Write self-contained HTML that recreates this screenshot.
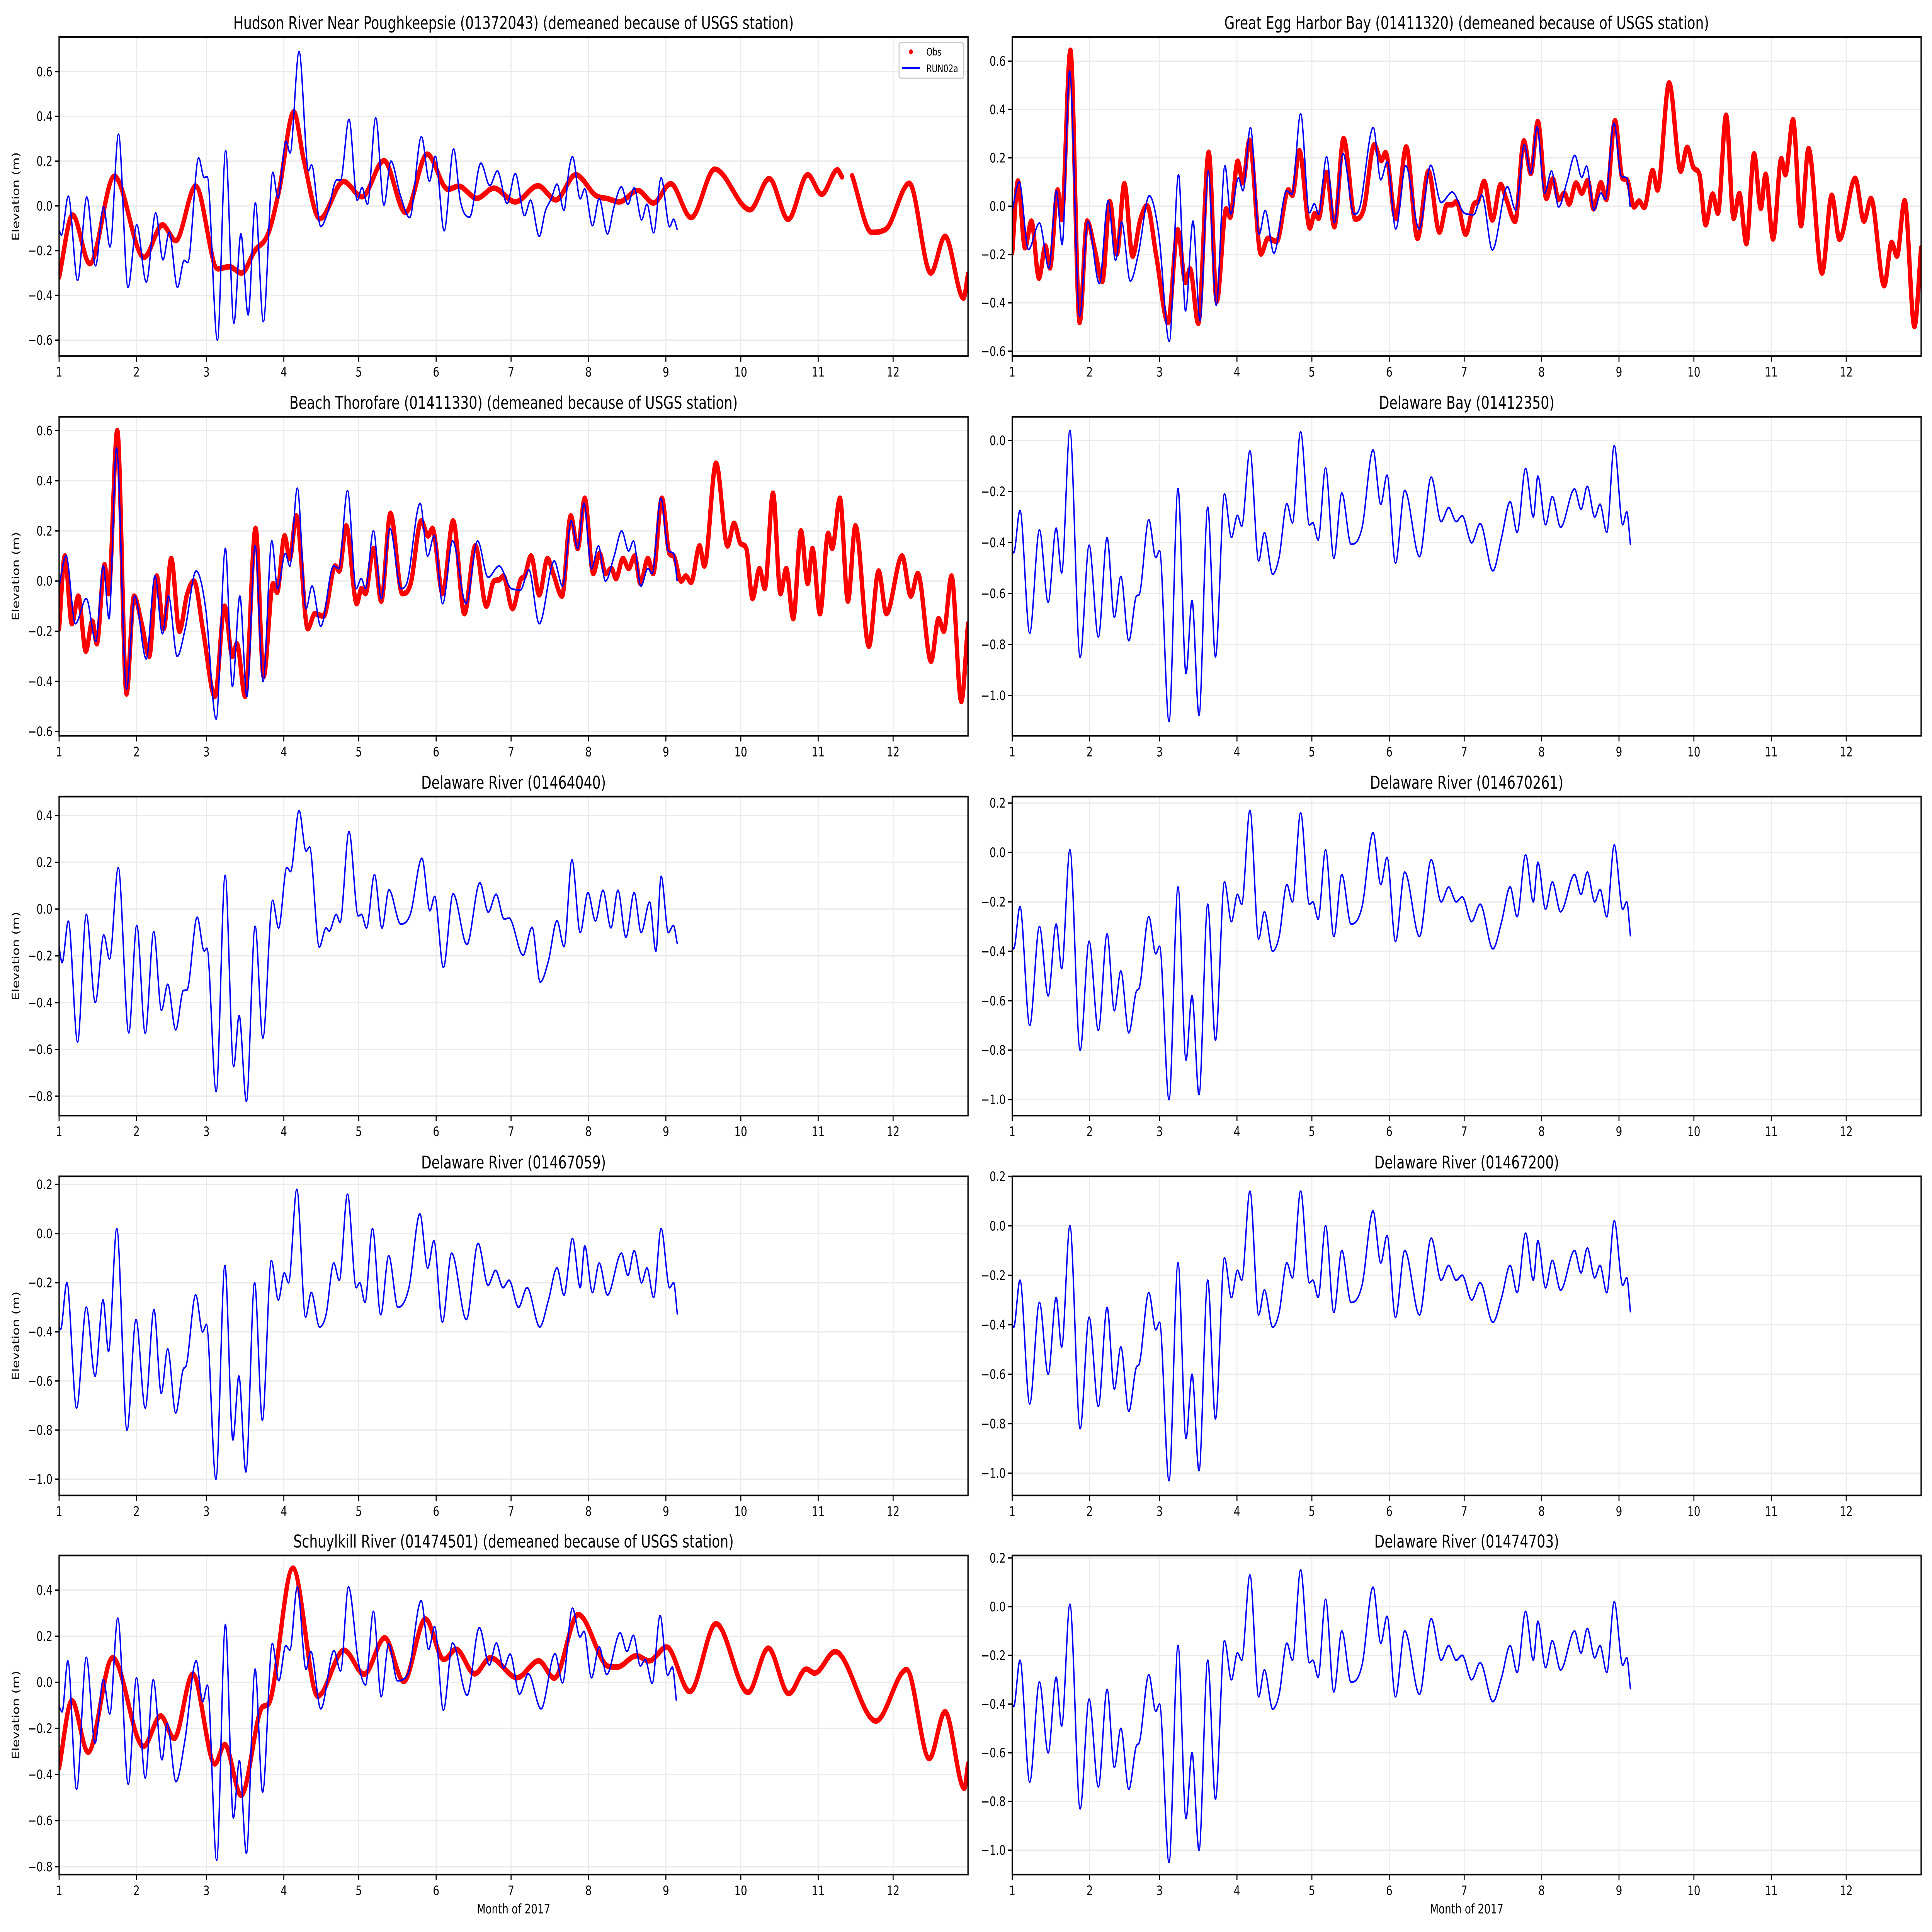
<!DOCTYPE html>
<html>
<head>
<meta charset="utf-8">
<title>Elevation comparison 2017</title>
<style>
  html,body{margin:0;padding:0;background:#fff;overflow:hidden;width:100%;height:100%;}
  svg{display:block;width:100vw;height:100vh;}
  text{font-family:"DejaVu Sans","Liberation Sans",sans-serif;fill:#000;}
</style>
</head>
<body>
<svg id="fig" viewBox="0 0 7650 5850" preserveAspectRatio="none"></svg>
<script>
// ---------- data (day of year since Jan 1, elevation in m) ----------
const monthTicks = [0,31,59,90,120,151,181,212,243,273,304,334];
const monthLabels = ["1","2","3","4","5","6","7","8","9","10","11","12"];

// Panel 1: Hudson River Near Poughkeepsie
const r1d=[0,5.4,12.3,22.1,34,41.4,46.7,54.7,63.5,68.2,73.1,78.3,83.8,88.1,94,97.9,104.4,113.9,121.3,130.1,138.7,147.4,155.7,160,167.3,174.1,182.7,191.8,198.9,206.9,215,219.8,224.3,231.8,238,244.9,253.1,262.6,276.7,284.4,292,299.8,305.4,311.7,313.5,315.5,317.6,325.4,331.1,340.5,349.1,354.8,362.2,364];
const r1v=[-0.319,-0.041,-0.258,0.132,-0.23,-0.085,-0.155,0.088,-0.281,-0.272,-0.3,-0.202,-0.122,0.069,0.42,0.209,-0.057,0.109,0.041,0.202,-0.029,0.231,0.074,0.088,0.034,0.079,0.018,0.09,0.027,0.139,0.046,0.032,0.018,0.069,0.013,0.099,-0.052,0.164,-0.017,0.122,-0.06,0.139,0.052,0.161,0.13,null,0.135,-0.118,-0.104,0.101,-0.3,-0.136,-0.412,-0.305];
const b1d=[0,0.9,3.7,7.4,11.1,14.6,17.8,20.4,23.8,27.6,31.1,34.9,38.7,41.6,44.1,47.4,50.1,51.5,55.9,58.1,59.3,63.4,66.7,70,72.8,75.7,78.6,81.8,85.6,87.6,90.9,92.5,96.1,99.9,101.1,104.8,107.5,111.2,112.7,116.1,119.4,121.3,123.5,126.8,130.1,132.9,136.6,140.4,145.1,148.3,150.7,154.2,158,160.7,164.4,168.9,172.5,175.5,179.4,182.7,186.4,188.8,192.3,194.7,197.1,199.4,202.2,204.2,205.6,208.7,210.5,213.6,216.3,219.6,222.2,225.2,227.8,230.3,233.3,235.4,238.1,241.1,244.5,246.1,247.6];
const b1v=[-0.108,-0.13,0.043,-0.333,0.039,-0.267,-0.006,-0.183,0.32,-0.364,-0.085,-0.34,-0.032,-0.241,-0.118,-0.364,-0.244,-0.253,0.214,0.127,0.13,-0.6,0.247,-0.524,-0.125,-0.487,0.013,-0.517,0.15,0.036,0.289,0.237,0.689,0.158,0.183,-0.092,-0.031,0.116,0.116,0.387,0.025,0.082,0.008,0.393,0.004,0.2,0.05,-0.052,0.309,0.111,0.221,-0.111,0.254,0.022,-0.05,0.191,0.091,0.156,0.011,0.144,-0.043,0.025,-0.136,-0.024,0.032,0.097,-0.02,0.163,0.22,0.032,0.076,-0.088,0.032,-0.125,-0.006,0.085,0.007,0.08,-0.062,0.007,-0.12,0.125,-0.093,-0.06,-0.108];

// Panel 2: Great Egg Harbor Bay
const r2d=[0,2.3,5.1,7.7,10.7,13.3,15.1,18.2,19.8,23.3,27,30,33.1,36.1,39.1,41.9,44.9,48.2,51.2,54,57.7,62.4,66.3,69.4,71.2,74.5,78.7,81.9,85.7,87.3,90.3,92.4,95,99.6,102.4,105.9,110.6,112.2,115,119.2,121.1,122.7,125.9,129,132.7,137.4,140.8,145,147.8,149.5,153.6,157.8,162.3,166.7,171.1,174.1,176.2,177.9,181.6,185.1,186.2,189,192.3,195.6,197.9,201.4,204.9,207.7,210.5,213.9,216.5,218.8,221.2,223,225.8,228.1,230.5,232.8,235.8,237.9,241.4,244.4,246.1,249.1,251,253.1,256.5,258.4,263.1,267.7,270.3,272.9,275.2,277.7,280.5,282.6,285.9,288.9,291.2,294,297.1,299.8,301.7,304.7,308,309.6,312.7,315.9,318.9,324.3,328.2,331.3,337.6,341.1,343.9,349.2,352.2,354.3,357.4,361.3,364];
const r2v=[-0.194,0.104,-0.172,-0.062,-0.298,-0.165,-0.255,0.067,-0.055,0.645,-0.481,-0.062,-0.181,-0.311,0.019,-0.198,0.093,-0.207,-0.059,0.002,-0.207,-0.481,-0.098,-0.316,-0.259,-0.485,0.223,-0.394,-0.011,-0.046,0.186,0.097,0.273,-0.198,-0.133,-0.146,0.067,0.045,0.23,-0.09,-0.031,-0.05,0.139,-0.085,0.28,-0.053,-0.011,0.254,0.189,0.222,-0.05,0.245,-0.133,0.145,-0.107,0.006,0.006,0.019,-0.116,0.012,0.015,0.102,-0.057,0.09,0.028,-0.063,0.27,0.135,0.35,0.032,0.113,0.028,0.054,0.009,0.096,0.054,0.106,-0.011,0.097,0.028,0.354,0.115,0.11,-0.003,0.021,-0.005,0.148,0.067,0.51,0.145,0.243,0.158,0.132,-0.077,0.05,-0.029,0.376,-0.05,0.052,-0.155,0.217,-0.009,0.132,-0.136,0.197,0.13,0.358,-0.081,0.238,-0.277,0.045,-0.137,0.115,-0.062,0.032,-0.329,-0.15,-0.207,0.023,-0.498,-0.172];
const b2d=[0,2.8,6.5,10.9,14.7,17.7,20,23,27,30.3,34.9,38.4,41.4,43.8,47.3,50.5,54.9,58.7,62.9,66.6,69.4,72.4,75.2,78.5,81.7,85.2,87.5,90.6,92.4,95.4,98.9,101.3,104.8,109.9,112,115.5,119,121,122.7,125.9,129,132.5,136.9,139.2,144.6,147.6,150.2,153.6,157.6,163,167.6,171.8,176.2,181.1,184.8,188.1,192.3,198.3,201.6,205.1,207.7,210.2,213.2,216,218.8,222.3,225.3,228.1,230,233,235.8,237.5,241,244,246.1,247.5];
const b2v=[-0.02,0.1,-0.179,-0.07,-0.255,0.063,-0.159,0.558,-0.455,-0.063,-0.32,0.022,-0.224,-0.066,-0.31,-0.198,0.043,-0.116,-0.559,0.13,-0.433,-0.062,-0.472,0.145,-0.41,0.167,-0.033,0.117,0.064,0.325,-0.116,-0.018,-0.194,0.063,0.05,0.382,-0.027,0.01,-0.033,0.204,-0.068,0.217,-0.033,-0.005,0.325,0.109,0.184,-0.094,0.167,-0.094,0.169,0.015,0.058,-0.029,-0.035,0.045,-0.181,0.08,-0.016,0.254,0.135,0.328,0.054,0.145,-0.003,0.106,0.21,0.119,0.165,-0.016,0.054,0.028,0.343,0.123,0.117,-0.003];

// Panel 3: Beach Thorofare
const r3d=[0,2.3,5.1,7.7,10.7,13.3,15.1,18.2,19.8,23.3,27,30,33.1,36.1,39.1,41.9,44.9,48.2,51.2,54,57.7,62.4,66.3,69.4,71.2,74.5,78.7,81.9,85.7,87.3,90.3,92.4,95,99.6,102.4,105.9,110.6,112.2,115,119.2,121.1,122.7,125.9,129,132.7,137.4,140.8,145,147.8,149.5,153.6,157.8,162.3,166.7,171.1,174.1,176.2,177.9,181.6,185.1,186.2,189,192.3,195.6,197.9,201.4,204.9,207.7,210.5,213.9,216.5,218.8,221.2,223,225.8,228.1,230.5,232.8,235.8,237.9,241.4,244.4,246.1,249.1,251,253.1,256.5,258.4,263.1,267.7,270.3,272.9,275.2,277.7,280.5,282.6,285.9,288.9,291.2,294,297.1,299.8,301.7,304.7,308,309.6,312.7,315.9,318.9,324.3,328.2,331.3,337.6,341.1,343.9,349.2,352.2,354.3,357.4,361.3,364];
const r3v=[-0.19,0.1,-0.17,-0.06,-0.28,-0.16,-0.25,0.065,-0.05,0.6,-0.45,-0.06,-0.17,-0.3,0.02,-0.19,0.09,-0.2,-0.055,0.0,-0.2,-0.46,-0.1,-0.3,-0.25,-0.46,0.21,-0.38,-0.01,-0.045,0.18,0.09,0.26,-0.19,-0.13,-0.14,0.06,0.04,0.22,-0.09,-0.03,-0.05,0.13,-0.08,0.27,-0.05,-0.01,0.24,0.18,0.21,-0.05,0.24,-0.13,0.14,-0.1,0.0,0.005,0.02,-0.11,0.01,0.015,0.1,-0.055,0.09,0.03,-0.06,0.26,0.13,0.33,0.03,0.11,0.03,0.05,0.01,0.09,0.05,0.1,-0.01,0.09,0.03,0.33,0.11,0.1,0.0,0.02,-0.005,0.14,0.06,0.47,0.14,0.23,0.15,0.13,-0.07,0.05,-0.03,0.35,-0.05,0.05,-0.15,0.2,-0.01,0.13,-0.13,0.19,0.13,0.33,-0.08,0.22,-0.26,0.04,-0.13,0.1,-0.06,0.03,-0.32,-0.15,-0.2,0.02,-0.48,-0.17];
const b3d=[0,2.8,6.5,10.9,14.7,17.7,20,23,27,30.3,34.9,38.4,41.4,43.8,47.3,50.5,54.9,58.7,62.9,66.6,69.4,72.4,75.2,78.5,81.7,85.2,87.5,90.6,92.4,95.4,98.9,101.3,104.8,109.9,112,115.5,119,121,122.7,125.9,129,132.5,136.9,139.2,144.6,147.6,150.2,153.6,157.6,163,167.6,171.8,176.2,181.1,184.8,188.1,192.3,198.3,201.6,205.1,207.7,210.2,213.2,216,218.8,222.3,225.3,228.1,230,233,235.8,237.5,241,244,246.1,247.5];
const b3v=[-0.02,0.1,-0.17,-0.07,-0.24,0.06,-0.15,0.53,-0.43,-0.06,-0.31,0.02,-0.21,-0.06,-0.3,-0.19,0.04,-0.11,-0.55,0.13,-0.42,-0.06,-0.46,0.14,-0.4,0.16,-0.03,0.11,0.06,0.37,-0.11,-0.02,-0.18,0.06,0.05,0.36,-0.03,0.01,-0.03,0.2,-0.07,0.21,-0.03,-0.01,0.31,0.1,0.18,-0.09,0.16,-0.09,0.16,0.015,0.06,-0.03,-0.035,0.045,-0.17,0.08,-0.02,0.24,0.13,0.31,0.05,0.14,0.0,0.1,0.2,0.12,0.16,-0.02,0.05,0.03,0.33,0.12,0.11,0.0];

// Panel 4: Delaware Bay
const b4d=[0,0.6,3.1,7,10.9,14.4,17.6,19.8,23.1,27.2,30.8,34.5,38,40.9,43.5,46.7,49.8,50.8,54.7,57.5,59,62.8,66.4,69.6,72,74.8,78.3,81.4,85,87.8,90.2,91.9,95.2,98.7,101,104.3,106.9,110,112.2,115.5,119,120.4,122.5,125.5,128.8,132,135.7,140.1,144.5,147.6,150.1,153.5,157.2,163.1,167.8,171.8,174.8,177.8,180.2,184,187.4,192.5,196,199.4,202.2,205.6,208.7,210.5,213.6,216.3,219.6,225.2,227.8,230.3,233.3,235.4,238.1,241.1,244.5,246.1,247.6];
const b4v=[-0.433,-0.44,-0.274,-0.755,-0.351,-0.634,-0.344,-0.519,0.039,-0.85,-0.411,-0.77,-0.381,-0.693,-0.533,-0.785,-0.609,-0.605,-0.311,-0.459,-0.432,-1.101,-0.188,-0.914,-0.627,-1.077,-0.262,-0.848,-0.21,-0.38,-0.294,-0.336,-0.041,-0.472,-0.362,-0.524,-0.457,-0.248,-0.323,0.034,-0.331,-0.323,-0.39,-0.108,-0.461,-0.206,-0.407,-0.342,-0.037,-0.25,-0.136,-0.48,-0.196,-0.455,-0.144,-0.318,-0.263,-0.318,-0.295,-0.401,-0.326,-0.511,-0.38,-0.24,-0.36,-0.11,-0.3,-0.14,-0.33,-0.22,-0.34,-0.19,-0.27,-0.18,-0.3,-0.25,-0.36,-0.02,-0.33,-0.28,-0.41];

// Panel 5: Delaware River (01464040)
const b5d=[0,1.2,3.7,7.4,10.9,14.5,17.9,20.2,23.7,27.9,31.1,34.5,37.9,41,43.5,46.7,49.8,51.2,55.3,58.1,59.2,62.9,66.5,69.9,72.1,75,78.5,81.6,85.5,87.9,91.2,92.7,96.1,98.9,100.3,104.2,106.9,108.2,111,112.5,116.1,119.8,121.1,123.1,126.3,129.3,132.1,136.8,140.7,145.3,148.5,150.4,153.9,157.8,163.3,168.5,171.9,175,178.2,180.2,185.8,189.4,192.7,196,199.4,202.2,205.4,208.7,211.8,214.8,217.8,221,223.8,227,230.3,233.1,236.5,239,241.1,244,246,247.6];
const b5v=[-0.164,-0.229,-0.052,-0.568,-0.023,-0.399,-0.111,-0.213,0.176,-0.529,-0.07,-0.531,-0.097,-0.433,-0.322,-0.516,-0.348,-0.346,-0.035,-0.179,-0.168,-0.78,0.144,-0.673,-0.455,-0.822,-0.074,-0.551,0.037,-0.081,0.178,0.161,0.421,0.248,0.265,-0.162,-0.081,-0.094,-0.023,-0.057,0.331,-0.029,-0.023,-0.081,0.147,-0.081,0.082,-0.064,-0.02,0.217,-0.007,0.054,-0.249,0.065,-0.151,0.112,-0.013,0.063,-0.042,-0.039,-0.197,-0.078,-0.312,-0.22,-0.05,-0.16,0.21,-0.1,0.07,-0.05,0.08,-0.08,0.08,-0.12,0.07,-0.1,0.03,-0.18,0.14,-0.1,-0.07,-0.15];

// Panel 6: Delaware River (014670261)
const b6d=[0,0.6,3.1,7,10.9,14.4,17.6,19.8,23.1,27.2,30.8,34.5,38,40.9,43.5,46.7,49.8,50.8,54.7,57.5,59,62.8,66.4,69.6,72,74.8,78.3,81.4,85,87.8,90.2,91.9,95.2,98.7,101,104.3,106.9,110,112.2,115.5,119,120.4,122.5,125.5,128.8,132,135.7,140.1,144.5,147.6,150.1,153.5,157.2,163.1,167.8,171.8,174.8,177.8,180.2,184,187.4,192.5,196,199.4,202.2,205.6,208.7,210.5,213.6,216.3,219.6,225.2,227.8,230.3,233.3,235.4,238.1,241.1,244.5,246.1,247.6];
const b6v=[-0.38,-0.39,-0.22,-0.7,-0.3,-0.58,-0.29,-0.47,0.01,-0.8,-0.36,-0.72,-0.33,-0.64,-0.48,-0.73,-0.56,-0.55,-0.26,-0.41,-0.38,-1.0,-0.14,-0.84,-0.58,-0.98,-0.21,-0.76,-0.12,-0.28,-0.17,-0.21,0.17,-0.35,-0.24,-0.4,-0.34,-0.13,-0.2,0.16,-0.21,-0.2,-0.27,0.01,-0.34,-0.09,-0.29,-0.22,0.08,-0.13,-0.02,-0.36,-0.08,-0.34,-0.03,-0.2,-0.14,-0.2,-0.18,-0.28,-0.21,-0.39,-0.28,-0.14,-0.26,-0.01,-0.2,-0.04,-0.23,-0.12,-0.24,-0.09,-0.17,-0.08,-0.2,-0.15,-0.26,0.03,-0.23,-0.2,-0.34];

// Panel 7: Delaware River (01467059)
const b7d=[0,0.6,3.1,7,10.9,14.4,17.6,19.8,23.1,27.2,30.8,34.5,38,40.9,43.5,46.7,49.8,50.8,54.7,57.5,59,62.8,66.4,69.6,72,74.8,78.3,81.4,85,87.8,90.2,91.9,95.2,98.7,101,104.3,106.9,110,112.2,115.5,119,120.4,122.5,125.5,128.8,132,135.7,140.1,144.5,147.6,150.1,153.5,157.2,163.1,167.8,171.8,174.8,177.8,180.2,184,187.4,192.5,196,199.4,202.2,205.6,208.7,210.5,213.6,216.3,219.6,225.2,227.8,230.3,233.3,235.4,238.1,241.1,244.5,246.1,247.6];
const b7v=[-0.38,-0.39,-0.2,-0.71,-0.3,-0.58,-0.27,-0.48,0.02,-0.8,-0.35,-0.71,-0.31,-0.65,-0.47,-0.73,-0.55,-0.54,-0.25,-0.4,-0.37,-1.0,-0.13,-0.84,-0.58,-0.97,-0.2,-0.76,-0.11,-0.27,-0.16,-0.2,0.18,-0.34,-0.24,-0.38,-0.33,-0.12,-0.19,0.16,-0.22,-0.2,-0.28,0.02,-0.33,-0.09,-0.3,-0.22,0.08,-0.14,-0.03,-0.36,-0.08,-0.35,-0.04,-0.21,-0.15,-0.22,-0.19,-0.3,-0.22,-0.38,-0.27,-0.14,-0.25,-0.02,-0.22,-0.05,-0.24,-0.12,-0.25,-0.08,-0.17,-0.07,-0.2,-0.14,-0.26,0.02,-0.22,-0.2,-0.33];

// Panel 8: Delaware River (01467200)
const b8d=[0,0.6,3.1,7,10.9,14.4,17.6,19.8,23.1,27.2,30.8,34.5,38,40.9,43.5,46.7,49.8,50.8,54.7,57.5,59,62.8,66.4,69.6,72,74.8,78.3,81.4,85,87.8,90.2,91.9,95.2,98.7,101,104.3,106.9,110,112.2,115.5,119,120.4,122.5,125.5,128.8,132,135.7,140.1,144.5,147.6,150.1,153.5,157.2,163.1,167.8,171.8,174.8,177.8,180.2,184,187.4,192.5,196,199.4,202.2,205.6,208.7,210.5,213.6,216.3,219.6,225.2,227.8,230.3,233.3,235.4,238.1,241.1,244.5,246.1,247.6];
const b8v=[-0.4,-0.41,-0.22,-0.72,-0.31,-0.6,-0.29,-0.49,0.0,-0.82,-0.37,-0.73,-0.33,-0.66,-0.49,-0.75,-0.57,-0.56,-0.27,-0.42,-0.39,-1.03,-0.15,-0.86,-0.6,-0.99,-0.22,-0.78,-0.13,-0.29,-0.18,-0.22,0.14,-0.36,-0.26,-0.41,-0.35,-0.15,-0.21,0.14,-0.23,-0.22,-0.29,0.0,-0.35,-0.1,-0.31,-0.24,0.06,-0.15,-0.04,-0.37,-0.1,-0.36,-0.05,-0.22,-0.16,-0.22,-0.2,-0.3,-0.23,-0.39,-0.29,-0.16,-0.27,-0.03,-0.22,-0.06,-0.25,-0.14,-0.26,-0.1,-0.19,-0.09,-0.21,-0.16,-0.27,0.02,-0.24,-0.21,-0.35];

// Panel 9: Schuylkill River
const r9d=[0,5.1,11.6,21.4,33.8,40.7,46.1,53.5,62.4,66.3,72.9,81.5,83.8,93.6,103.6,114.1,122.2,130.4,138,146.7,154.1,159,166.4,172.7,183.4,192.1,198.3,207.9,220,223.5,231.2,236.3,243.3,252.6,263.1,275.9,284,292.2,299.2,302.6,310.8,327.1,339.4,348.5,354.8,362.5,364];
const r9v=[-0.371,-0.08,-0.303,0.106,-0.278,-0.146,-0.243,0.035,-0.354,-0.27,-0.49,-0.106,-0.095,0.495,-0.06,0.139,0.035,0.193,0.004,0.274,0.099,0.143,0.037,0.106,0.02,0.093,0.018,0.294,0.069,0.066,0.115,0.093,0.153,-0.04,0.254,-0.044,0.148,-0.049,0.057,0.04,0.133,-0.168,0.055,-0.331,-0.128,-0.46,-0.354];
const b9d=[0,1.2,3.5,7,10.9,14.4,17.7,20.3,23.5,27.7,31,34.5,37.7,41.2,43.3,46.8,50.3,54.9,57.5,59.4,63.1,66.6,69.8,72.2,75,78.5,81.5,85.4,88,90.8,92.4,95.4,98.9,100.8,104.8,110.1,112.7,115.9,119.9,122.7,125.9,129,132,135.5,139.7,145,148,150.4,153.9,157.6,163.4,168.3,172.3,175.1,178.1,180.6,184.4,187.9,193,198.6,201.6,205.6,208.6,210.2,213.2,216.3,219.3,224.7,227.4,230,232.8,234.7,237.5,240.7,243.7,245.6,247.2];
const b9v=[-0.106,-0.128,0.093,-0.464,0.108,-0.263,0.011,-0.137,0.278,-0.442,0.019,-0.415,0.011,-0.336,-0.179,-0.431,-0.258,0.093,-0.084,-0.013,-0.772,0.25,-0.588,-0.34,-0.742,0.057,-0.477,0.168,0.007,0.159,0.14,0.413,0.056,0.134,-0.115,0.137,0.049,0.413,0.084,-0.011,0.307,-0.062,0.166,0.007,0.037,0.354,0.143,0.241,-0.121,0.17,-0.056,0.237,0.075,0.17,0.062,0.122,-0.051,0.037,-0.115,0.124,-0.002,0.321,0.197,0.221,0.02,0.153,0.034,0.214,0.134,0.203,0.071,0.099,-0.004,0.289,0.031,0.066,-0.08];

// Panel 10: Delaware River (01474703)
const b10d=[0,0.6,3.1,7,10.9,14.4,17.6,19.8,23.1,27.2,30.8,34.5,38,40.9,43.5,46.7,49.8,50.8,54.7,57.5,59,62.8,66.4,69.6,72,74.8,78.3,81.4,85,87.8,90.2,91.9,95.2,98.7,101,104.3,106.9,110,112.2,115.5,119,120.4,122.5,125.5,128.8,132,135.7,140.1,144.5,147.6,150.1,153.5,157.2,163.1,167.8,171.8,174.8,177.8,180.2,184,187.4,192.5,196,199.4,202.2,205.6,208.7,210.5,213.6,216.3,219.6,225.2,227.8,230.3,233.3,235.4,238.1,241.1,244.5,246.1,247.6];
const b10v=[-0.4,-0.41,-0.22,-0.72,-0.31,-0.6,-0.29,-0.49,0.01,-0.83,-0.38,-0.74,-0.34,-0.66,-0.5,-0.75,-0.57,-0.56,-0.28,-0.43,-0.4,-1.05,-0.16,-0.87,-0.6,-1.0,-0.22,-0.79,-0.14,-0.3,-0.19,-0.22,0.13,-0.37,-0.26,-0.42,-0.36,-0.15,-0.22,0.15,-0.23,-0.22,-0.29,0.03,-0.35,-0.1,-0.31,-0.24,0.08,-0.15,-0.04,-0.37,-0.1,-0.36,-0.05,-0.22,-0.16,-0.22,-0.2,-0.3,-0.23,-0.39,-0.29,-0.16,-0.27,-0.02,-0.22,-0.06,-0.25,-0.14,-0.26,-0.1,-0.19,-0.09,-0.21,-0.16,-0.27,0.02,-0.24,-0.21,-0.34];

const ytA=[-0.6,-0.4,-0.2,0,0.2,0.4,0.6];
const ytB=[-1.0,-0.8,-0.6,-0.4,-0.2,0.0];
const ytC=[-0.8,-0.6,-0.4,-0.2,0.0,0.2,0.4];
const ytD=[-1.0,-0.8,-0.6,-0.4,-0.2,0.0,0.2];

// ---------- layout ----------
const NS="http://www.w3.org/2000/svg";
const svg=document.getElementById('fig');
const colX=[234,4008], PW=3599, rowY=[112,1262,2412,3562,4710], PH=966, XMAX=364;

const panels=[
 {key:'hudson',col:0,row:0,title:'Hudson River Near Poughkeepsie (01372043) (demeaned because of USGS station)',ylim:[-0.671,0.755],yt:ytA,obs:[r1d,r1v],mod:[b1d,b1v],legend:true},
 {key:'great-egg-harbor',col:1,row:0,title:'Great Egg Harbor Bay (01411320) (demeaned because of USGS station)',ylim:[-0.62,0.70],yt:ytA,obs:[r2d,r2v],mod:[b2d,b2v]},
 {key:'beach-thorofare',col:0,row:1,title:'Beach Thorofare (01411330) (demeaned because of USGS station)',ylim:[-0.617,0.655],yt:ytA,obs:[r3d,r3v],mod:[b3d,b3v]},
 {key:'delaware-bay',col:1,row:1,title:'Delaware Bay (01412350)',ylim:[-1.158,0.093],yt:ytB,mod:[b4d,b4v]},
 {key:'delaware-01464040',col:0,row:2,title:'Delaware River (01464040)',ylim:[-0.883,0.481],yt:ytC,mod:[b5d,b5v]},
 {key:'delaware-014670261',col:1,row:2,title:'Delaware River (014670261)',ylim:[-1.065,0.226],yt:ytD,mod:[b6d,b6v]},
 {key:'delaware-01467059',col:0,row:3,title:'Delaware River (01467059)',ylim:[-1.066,0.233],yt:ytD,mod:[b7d,b7v]},
 {key:'delaware-01467200',col:1,row:3,title:'Delaware River (01467200)',ylim:[-1.09,0.2],yt:ytD,mod:[b8d,b8v]},
 {key:'schuylkill',col:0,row:4,title:'Schuylkill River (01474501) (demeaned because of USGS station)',ylim:[-0.834,0.55],yt:ytC,obs:[r9d,r9v],mod:[b9d,b9v]},
 {key:'delaware-01474703',col:1,row:4,title:'Delaware River (01474703)',ylim:[-1.10,0.21],yt:ytD,mod:[b10d,b10v]}
];

function mk(tag,attrs,parent){
  const e=document.createElementNS(NS,tag);
  for(const k in attrs) e.setAttribute(k,attrs[k]);
  (parent||svg).appendChild(e);
  return e;
}
function fmt(v){ const s=Math.abs(v).toFixed(1); return (v<-1e-9?'\u2212':'')+s; }

function monoPath(px,py){
  const n=px.length; if(n<2) return '';
  const d=[],m=new Array(n);
  for(let i=0;i<n-1;i++) d.push((py[i+1]-py[i])/(px[i+1]-px[i]));
  m[0]=d[0]; m[n-1]=d[n-2];
  for(let i=1;i<n-1;i++){ m[i]=(d[i-1]*d[i]<=0)?0:(d[i-1]+d[i])/2; }
  for(let i=0;i<n-1;i++){
    if(d[i]===0){m[i]=0;m[i+1]=0;continue;}
    const a=m[i]/d[i],b=m[i+1]/d[i],s=a*a+b*b;
    if(s>9){const t=3/Math.sqrt(s);m[i]=t*a*d[i];m[i+1]=t*b*d[i];}
  }
  let p='M'+px[0].toFixed(1)+','+py[0].toFixed(1);
  for(let i=0;i<n-1;i++){
    const h=(px[i+1]-px[i])/3;
    p+='C'+(px[i]+h).toFixed(1)+','+(py[i]+m[i]*h).toFixed(1)+' '+(px[i+1]-h).toFixed(1)+','+(py[i+1]-m[i+1]*h).toFixed(1)+' '+px[i+1].toFixed(1)+','+py[i+1].toFixed(1);
  }
  return p;
}
function seriesPath(days,vals,sx,sy){
  let out='',bx=[],by=[];
  for(let i=0;i<days.length;i++){
    if(vals[i]===null){ out+=monoPath(bx,by); bx=[];by=[]; continue; }
    bx.push(sx(days[i])); by.push(sy(vals[i]));
  }
  return out+monoPath(bx,by);
}

panels.forEach((P,idx)=>{
  const x0=colX[P.col], y0=rowY[P.row], x1=x0+PW, y1=y0+PH;
  const sx=d=>x0+d/XMAX*PW;
  const sy=v=>y1-(v-P.ylim[0])/(P.ylim[1]-P.ylim[0])*PH;
  const g=mk('g',{});
  
  

  const cp=mk('clipPath',{id:'clip'+idx},g);
  mk('rect',{x:x0,y:y0,width:PW,height:PH},cp);

  const grid=mk('g',{stroke:'#ebebeb','stroke-width':4},g);
  
  
  monthTicks.forEach(t=>{ mk('line',{x1:sx(t),x2:sx(t),y1:y0,y2:y1},grid); });
  P.yt.forEach(v=>{ mk('line',{x1:x0,x2:x1,y1:sy(v),y2:sy(v)},grid); });

  if(P.obs){
    const o=mk('path',{d:seriesPath(P.obs[0],P.obs[1],sx,sy),fill:'none',stroke:'#ff0000','stroke-width':17,'stroke-linejoin':'round','stroke-linecap':'round','clip-path':'url(#clip'+idx+')'},g);
    
    
  }
  const b=mk('path',{d:seriesPath(P.mod[0],P.mod[1],sx,sy),fill:'none',stroke:'#0000ff','stroke-width':5.5,'stroke-linejoin':'round','clip-path':'url(#clip'+idx+')'},g);
  
  

  const fr=mk('rect',{x:x0,y:y0,width:PW,height:PH,fill:'none',stroke:'#000','stroke-width':5},g);
  
  

  const xt=mk('g',{},g);
  
  
  monthTicks.forEach((t,i)=>{
    mk('line',{x1:sx(t),x2:sx(t),y1:y1,y2:y1+17,stroke:'#000','stroke-width':4},xt);
    const tx=mk('text',{x:sx(t),y:y1+62,'font-size':40,'text-anchor':'middle'},xt);
    
    
    tx.textContent=monthLabels[i];
  });
  const yt=mk('g',{},g);
  
  
  P.yt.forEach(v=>{
    mk('line',{x1:x0-17,x2:x0,y1:sy(v),y2:sy(v),stroke:'#000','stroke-width':4},yt);
    const ty=mk('text',{x:x0-26,y:sy(v)+14,'font-size':40,'text-anchor':'end'},yt);
    
    
    ty.textContent=fmt(v);
  });

  const ti=mk('text',{x:x0+PW/2,y:y0-24,'font-size':53,'text-anchor':'middle'},g);
  
  
  ti.textContent=P.title;

  if(P.col===0){
    const yl=mk('text',{x:0,y:0,'font-size':40,'text-anchor':'middle',transform:'translate(76,'+(y0+PH/2)+') rotate(-90)'},g);
    
    
    yl.textContent='Elevation (m)';
  }
  if(P.row===4){
    const xl=mk('text',{x:x0+PW/2,y:y1+118,'font-size':40,'text-anchor':'middle'},g);
    
    
    xl.textContent='Month of 2017';
  }

  if(P.legend){
    const lg=mk('g',{},g);
    
    
    mk('rect',{x:3560,y:129,width:256,height:108,rx:8,fill:'#fff','fill-opacity':0.85,stroke:'#cccccc','stroke-width':4},lg);
    const e1=mk('g',{},lg);
    
    
    mk('circle',{cx:3607,cy:157,r:7.5,fill:'#ff0000'},e1);
    const t1=mk('text',{x:3668,y:168,'font-size':31},e1);
    t1.textContent='Obs';
    const e2=mk('g',{},lg);
    
    
    mk('line',{x1:3571,x2:3643,y1:206,y2:206,stroke:'#0000ff','stroke-width':6},e2);
    const t2=mk('text',{x:3668,y:218,'font-size':31},e2);
    t2.textContent='RUN02a';
  }
});
</script>
</body>
</html>
